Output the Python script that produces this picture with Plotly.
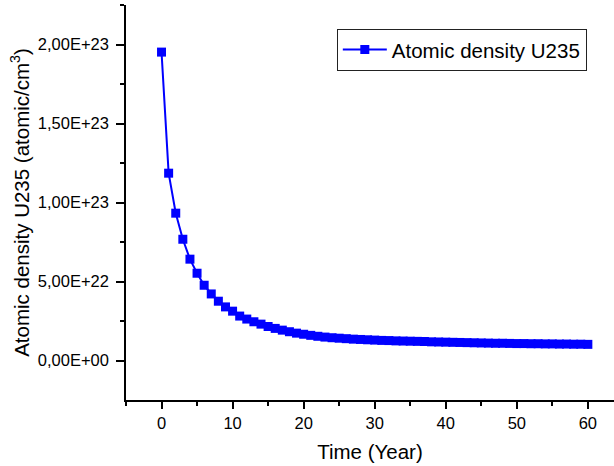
import plotly.graph_objects as go

years = list(range(0, 61))
density = [
    1.952e23, 1.186e23, 9.33e22, 7.68e22, 6.42e22, 5.53e22, 4.77e22, 4.22e22, 3.76e22, 3.40e22,
    3.13e22, 2.82e22, 2.63e22, 2.46e22, 2.31e22, 2.16e22, 2.04e22, 1.93e22, 1.83e22, 1.74e22,
    1.67e22, 1.60e22, 1.54e22, 1.49e22, 1.45e22, 1.42e22, 1.39e22, 1.36e22, 1.34e22, 1.32e22,
    1.30e22, 1.28e22, 1.27e22, 1.25e22, 1.24e22, 1.23e22, 1.22e22, 1.21e22, 1.19e22, 1.18e22,
    1.17e22, 1.16e22, 1.15e22, 1.14e22, 1.13e22, 1.12e22, 1.11e22, 1.10e22, 1.10e22, 1.09e22,
    1.08e22, 1.08e22, 1.07e22, 1.07e22, 1.06e22, 1.06e22, 1.05e22, 1.05e22, 1.04e22, 1.04e22,
    1.03e22,
]
ytick_vals = [0, 5e22, 1e23, 1.5e23, 2e23]
ytick_text = ["0,00E+00", "5,00E+22", "1,00E+23", "1,50E+23", "2,00E+23"]
xtick_vals = [0, 10, 20, 30, 40, 50, 60]

FONT = "Liberation Sans, Arial, sans-serif"

fig = go.Figure()
fig.add_trace(go.Scatter(
    x=years, y=density, mode="lines+markers", name="Atomic density U235",
    line=dict(color="#0000FF", width=2),
    marker=dict(symbol="square", size=9, color="#0000FF"),
))

fig.update_layout(
    width=614, height=466,
    margin=dict(l=126, r=0, t=5, b=66, autoexpand=False),
    paper_bgcolor="white", plot_bgcolor="white",
    font=dict(family=FONT, color="black"),
    showlegend=True,
    legend=dict(
        x=0.432, y=0.94, xanchor="left", yanchor="top",
        bgcolor="white", bordercolor="#222222", borderwidth=1,
        font=dict(size=20.5, family=FONT, color="black"),
        tracegroupgap=0, itemwidth=44,
    ),
    xaxis=dict(
        range=[-5, 63.68], automargin=False,
        showline=True, linecolor="black", linewidth=1.5,
        showgrid=False, zeroline=False,
        ticks="outside", ticklen=7, tickwidth=1.5, tickcolor="black",
        tickvals=xtick_vals,
        tickfont=dict(size=16.5, family=FONT, color="black"),
        minor=dict(ticks="outside", ticklen=4, tickwidth=1.5, tickcolor="black", dtick=5, tick0=0, showgrid=False),
        title=dict(text="Time (Year)", font=dict(size=20.5, family=FONT, color="black"), standoff=14),
    ),
    yaxis=dict(
        range=[-2.49e22, 2.25e23], automargin=False,
        showline=True, linecolor="black", linewidth=1.5,
        showgrid=False, zeroline=False,
        ticks="outside", ticklen=8, tickwidth=1.5, tickcolor="black",
        tickvals=ytick_vals, ticktext=ytick_text,
        tickfont=dict(size=16.5, family=FONT, color="black"),
        ticklabelstandoff=4,
        minor=dict(ticks="outside", ticklen=4, tickwidth=1.5, tickcolor="black", dtick=2.5e22, tick0=0, showgrid=False),
        title=dict(text="Atomic density U235 (atomic/cm<sup>3</sup>)", font=dict(size=20.5, family=FONT, color="black"), standoff=3),
    ),
)

fig.write_html("out.html", config={"displayModeBar": False},
               post_script="document.body.style.margin='0';")
